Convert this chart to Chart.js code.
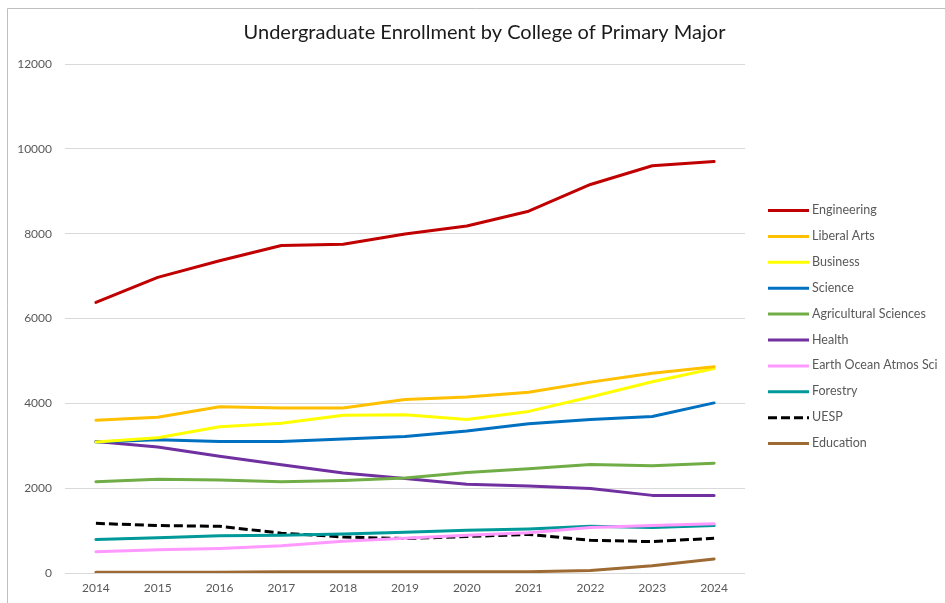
<!DOCTYPE html>
<html>
<head>
<meta charset="utf-8">
<title>Undergraduate Enrollment by College of Primary Major</title>
<script src="https://cdn.jsdelivr.net/npm/chart.js@4/dist/chart.umd.min.js"></script>
<style>
  html, body { margin: 0; padding: 0; background: #ffffff; }
  #wrap { position: relative; width: 945px; height: 603px; overflow: hidden; }
  canvas { display: block; }
</style>
</head>
<body>
<div id="wrap"><canvas id="chart" width="945" height="603"></canvas></div>
<script>
// Fall enrollment years
const years = ['2014', '2015', '2016', '2017', '2018', '2019', '2020', '2021', '2022', '2023', '2024'];

// Undergraduate headcount by college of primary major
const engineering   = [6380, 6970, 7360, 7720, 7750, 7990, 8180, 8530, 9160, 9600, 9700];
const liberalArts   = [3600, 3670, 3920, 3890, 3890, 4090, 4150, 4260, 4500, 4710, 4860];
const business      = [3090, 3190, 3450, 3530, 3720, 3730, 3620, 3810, 4150, 4510, 4820];
const science       = [3090, 3140, 3100, 3100, 3160, 3220, 3350, 3520, 3620, 3690, 4010];
const agricultural  = [2150, 2210, 2190, 2150, 2180, 2240, 2370, 2460, 2560, 2530, 2590];
const health        = [3100, 2970, 2750, 2550, 2360, 2230, 2090, 2050, 1990, 1830, 1830];
const earthOcean    = [500, 550, 580, 640, 750, 820, 890, 950, 1070, 1120, 1160];
const forestry      = [790, 830, 880, 890, 920, 960, 1010, 1040, 1100, 1070, 1120];
const uesp          = [1170, 1120, 1100, 940, 850, 810, 860, 910, 770, 740, 820];
const education     = [20, 20, 20, 30, 30, 30, 30, 30, 60, 170, 330];

// Y axis tick labels
const yTicks = [0, 2000, 4000, 6000, 8000, 10000, 12000];

const chartTitle = 'Undergraduate Enrollment by College of Primary Major';
const FONT = 'Lato, "Open Sans", "Liberation Sans", sans-serif';

function series(label, data, color, dash) {
  return {
    label: label,
    data: data,
    borderColor: color,
    backgroundColor: color,
    borderWidth: 3,
    borderDash: dash || [],
    borderCapStyle: dash ? 'butt' : 'round',
    borderJoinStyle: 'round',
    pointRadius: 0,
    pointHoverRadius: 0,
    tension: 0,
    fill: false
  };
}

// Outer frame line, title and legend drawn on the canvas
const decorations = {
  id: 'decorations',
  beforeDraw(chart) {
    const ctx = chart.ctx;
    ctx.save();
    ctx.fillStyle = '#ffffff';
    ctx.fillRect(0, 0, chart.width, chart.height);
    ctx.strokeStyle = '#bfbfbf';
    ctx.lineWidth = 1;
    ctx.beginPath();
    ctx.moveTo(7.5, chart.height);
    ctx.lineTo(7.5, 8.5);
    ctx.lineTo(chart.width, 8.5);
    ctx.stroke();
    ctx.restore();
  },
  afterDraw(chart) {
    const ctx = chart.ctx;
    ctx.save();
    // title
    ctx.fillStyle = '#1a1a1a';
    ctx.font = '20px ' + FONT;
    ctx.textAlign = 'center';
    ctx.textBaseline = 'middle';
    ctx.fillText(chartTitle, 484.5, 33);

    // legend
    const x0 = 768, x1 = 809, top = 210, step = 25.9;
    ctx.font = '12.5px ' + FONT;
    ctx.textAlign = 'left';
    chart.data.datasets.forEach((ds, i) => {
      const y = top + i * step;
      ctx.strokeStyle = ds.borderColor;
      ctx.lineWidth = 3;
      ctx.setLineDash(ds.borderDash && ds.borderDash.length ? ds.borderDash : []);
      ctx.lineCap = 'butt';
      ctx.beginPath();
      ctx.moveTo(x0, y + 0.5);
      ctx.lineTo(x1, y + 0.5);
      ctx.stroke();
      ctx.setLineDash([]);
      ctx.fillStyle = '#595959';
      ctx.fillText(ds.label, 812, y);
    });
    ctx.restore();
  }
};

new Chart(document.getElementById('chart'), {
  type: 'line',
  data: {
    labels: years,
    datasets: [
      series('Engineering', engineering, '#c00000'),
      series('Liberal Arts', liberalArts, '#ffc000'),
      series('Business', business, '#ffff00'),
      series('Science', science, '#0070c0'),
      series('Agricultural Sciences', agricultural, '#70ad47'),
      series('Health', health, '#7030a0'),
      series('Earth Ocean Atmos Sci', earthOcean, '#ff99ff'),
      series('Forestry', forestry, '#009999'),
      series('UESP', uesp, '#000000', [9, 4]),
      series('Education', education, '#9e6a33')
    ]
  },
  options: {
    responsive: false,
    animation: false,
    devicePixelRatio: 1,
    layout: { padding: { left: 0, top: 64, right: 200, bottom: 0 } },
    plugins: {
      legend: { display: false },
      title: { display: false },
      tooltip: { enabled: false }
    },
    scales: {
      x: {
        type: 'category',
        offset: true,
        grid: { display: false, drawTicks: false },
        border: { display: false },
        ticks: {
          color: '#595959',
          font: { family: FONT, size: 12 },
          padding: 8,
          maxRotation: 0,
          autoSkip: false
        },
        afterFit(scale) { scale.height = 30; }
      },
      y: {
        min: 0,
        max: 12000,
        afterBuildTicks(scale) { scale.ticks = yTicks.map(v => ({ value: v })); },
        grid: { color: '#d9d9d9', lineWidth: 1, drawTicks: false },
        border: { display: false },
        ticks: {
          color: '#595959',
          font: { family: FONT, size: 12 },
          padding: 13,
          callback: v => String(v)
        },
        afterFit(scale) { scale.width = 65; }
      }
    }
  },
  plugins: [decorations]
});
</script>
</body>
</html>
